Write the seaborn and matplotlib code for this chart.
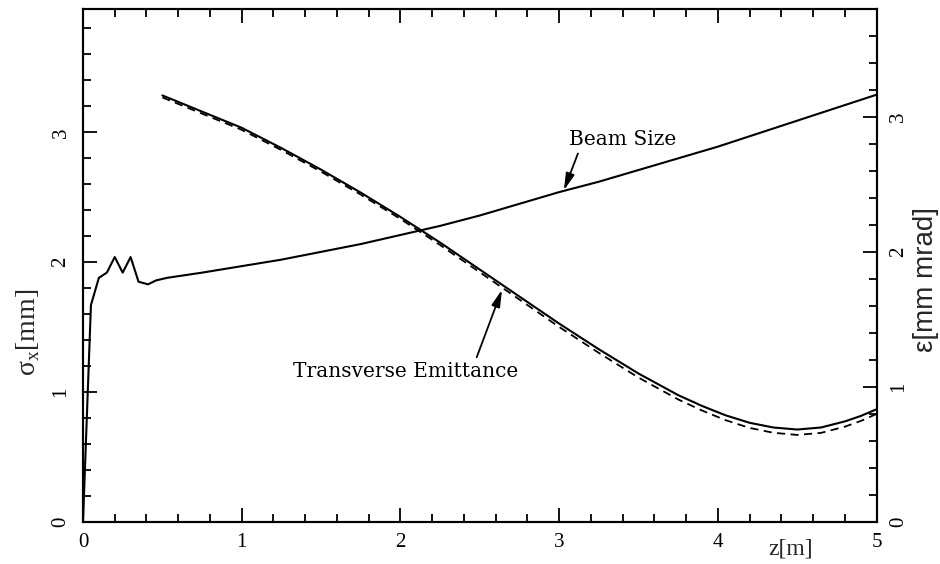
import matplotlib
matplotlib.use("Agg")
import matplotlib.pyplot as plt
from matplotlib.ticker import MultipleLocator
import pandas as pd
import seaborn as sns

# Beam size sigma_x [mm] along the beam line z [m] (left axis)
z_beam = [0.0, 0.05, 0.10, 0.15, 0.20, 0.25, 0.30, 0.35, 0.41, 0.46, 0.53,
          0.75, 1.0, 1.25, 1.5, 1.75, 2.0, 2.25, 2.5, 2.75, 3.0, 3.25, 3.5,
          3.75, 4.0, 4.25, 4.5, 4.75, 5.0]
sigma_x = [0.0, 1.67, 1.88, 1.92, 2.04, 1.92, 2.04, 1.85, 1.83, 1.86, 1.88,
           1.92, 1.97, 2.02, 2.08, 2.14, 2.21, 2.28, 2.36, 2.45, 2.54, 2.62, 2.71,
           2.80, 2.89, 2.99, 3.09, 3.19, 3.29]

# Transverse emittance [mm mrad] (right axis): two runs, solid and dashed
z_emit = [0.5, 0.75, 1.0, 1.25, 1.5, 1.75, 2.0, 2.25, 2.5, 2.75, 3.0, 3.25,
          3.5, 3.75, 3.9, 4.05, 4.2, 4.35, 4.5, 4.65, 4.8, 4.9, 5.0]
emit_solid = [3.16, 3.04, 2.92, 2.77, 2.61, 2.44, 2.26, 2.07, 1.87, 1.67, 1.47,
              1.28, 1.10, 0.94, 0.86, 0.79, 0.735, 0.70, 0.685, 0.70, 0.745,
              0.785, 0.835]
emit_dashed = [3.145, 3.025, 2.905, 2.755, 2.595, 2.425, 2.245, 2.052, 1.85,
               1.648, 1.445, 1.253, 1.07, 0.908, 0.826, 0.754, 0.697, 0.661,
               0.645, 0.660, 0.706, 0.748, 0.80]

x_ticks = [0, 1, 2, 3, 4, 5]
left_ticks = [0, 1, 2, 3]
right_ticks = [0, 1, 2, 3]

sns.set_style("ticks")
plt.rcParams["font.family"] = ["Liberation Serif", "DejaVu Serif"]
plt.rcParams["mathtext.fontset"] = "custom"
plt.rcParams["mathtext.rm"] = "Liberation Serif"
plt.rcParams["axes.edgecolor"] = "black"
plt.rcParams["xtick.color"] = "black"
plt.rcParams["ytick.color"] = "black"

W, H = 940, 564
fig = plt.figure(figsize=(W / 100, H / 100), dpi=100)
x0, x1, y0, y1 = 83, 876.5, 522, 9
ax = fig.add_axes([x0 / W, 1 - y0 / H, (x1 - x0) / W, (y0 - y1) / H])
ax2 = ax.twinx()

beam = pd.DataFrame({"z": z_beam, "sigma": sigma_x})
emit = pd.DataFrame({"z": z_emit, "solid": emit_solid, "dashed": emit_dashed})

sns.lineplot(data=beam, x="z", y="sigma", ax=ax, color="black", lw=1.5,
             estimator=None, sort=False)
sns.lineplot(data=emit, x="z", y="solid", ax=ax2, color="black", lw=1.5,
             estimator=None, sort=False)
sns.lineplot(data=emit, x="z", y="dashed", ax=ax2, color="black", lw=1.3,
             linestyle=(0, (4.5, 3)), estimator=None, sort=False)

ax.set_xlim(0, 5)
ax.set_ylim(0, 3.95)
ax2.set_ylim(0, 3.8)

ax.set_xticks(x_ticks)
ax.set_yticks(left_ticks)
ax2.set_yticks(right_ticks)
ax.xaxis.set_minor_locator(MultipleLocator(0.2))
ax.yaxis.set_minor_locator(MultipleLocator(0.2))
ax2.yaxis.set_minor_locator(MultipleLocator(0.2))

for a in (ax, ax2):
    for s in a.spines.values():
        s.set_linewidth(1.5)
        s.set_color("black")

ax.tick_params(axis="x", which="both", direction="in", top=True, bottom=True,
               labelsize=15, pad=8)
ax.tick_params(axis="y", which="both", direction="in", left=True, right=False,
               labelsize=15, pad=9, labelrotation=90)
ax.tick_params(which="major", length=10, width=1.3)
ax.tick_params(which="minor", length=6, width=1.3)
ax2.tick_params(axis="y", which="both", direction="in", right=True, left=False,
                labelsize=15, pad=9, labelrotation=90)
ax2.tick_params(which="major", length=10, width=1.3)
ax2.tick_params(which="minor", length=6, width=1.3)
for lab in ax.get_yticklabels():
    lab.set_va("center")
for lab in ax2.get_yticklabels():
    lab.set_va("center")

ax.set_xlabel("z[m]", fontsize=17)
ax.xaxis.set_label_coords(0.892, -0.033)
ax.set_ylabel(r"σ$_\mathregular{x}$[mm]", fontsize=20, va="center")
ax.yaxis.set_label_coords(-0.069, 0.37)
ax2.set_ylabel("ε[mm mrad]", fontsize=20, family=["Liberation Sans", "DejaVu Sans"],
               rotation=90, va="center")
ax2.yaxis.set_label_coords(1.062, 0.472)

note_font = dict(family="DejaVu Serif", fontsize=14.5, color="black")
arrow = dict(arrowstyle="-|>,head_length=0.7,head_width=0.18", color="black",
             lw=1.3, shrinkA=1, shrinkB=0)

ax.annotate("Beam Size", xy=(3.03, 2.554), xytext=(3.40, 2.946),
            ha="center", va="center",
            arrowprops=dict(arrow, relpos=(0.1, 0.0)), **note_font)
ax2.annotate("Transverse Emittance", xy=(2.64, 1.72), xytext=(2.03, 1.116),
             ha="center", va="center",
             arrowprops=dict(arrow, relpos=(0.81, 1.0)), **note_font)

fig.savefig("out.png", dpi=100, facecolor="white")
